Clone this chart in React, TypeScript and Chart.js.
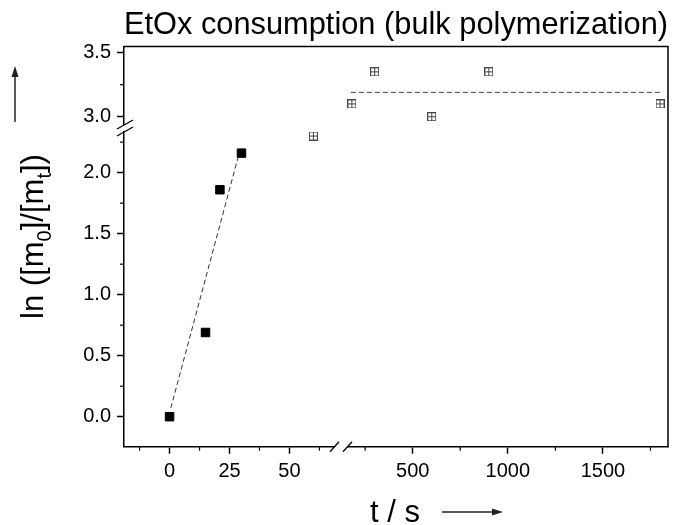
import React, { useEffect, useRef } from 'react';
import { Chart, registerables } from 'chart.js';

Chart.register(...registerables);

// ---- data ----
const titleText = 'EtOx consumption (bulk polymerization)';
const xTitleText = 't / s';
const yTitleParts = [
  { t: 'ln ([m', sub: false },
  { t: '0', sub: true },
  { t: ']/[m', sub: false },
  { t: 't', sub: true },
  { t: '])', sub: false },
];

const filledT = [0, 15, 21, 30];
const filledV = [0, 0.69, 1.86, 2.16];
const fitT = [0.5, 28.5];
const fitV = [0.07, 2.12];
const openLowT = [60];
const openLowV = [2.3];
const openHighT = [180, 300, 600, 900, 1800];
const openHighV = [3.1, 3.35, 3.0, 3.35, 3.1];
const plateauT = [175, 1800];
const plateauV = [3.19, 3.19];

const xLowTicks = [-12.5, 0, 12.5, 25, 37.5, 50, 62.5];
const xLowLabeled = [0, 25, 50];
const xHighTicks = [250, 500, 750, 1000, 1250, 1500, 1750];
const xHighLabeled = [500, 1000, 1500];
const yLowTicks = [0, 0.25, 0.5, 0.75, 1, 1.25, 1.5, 1.75, 2, 2.25];
const yLowLabeled = [0, 0.5, 1, 1.5, 2];
const yHighTicks = [3, 3.25, 3.5];
const yHighLabeled = [3, 3.5];

const FONT = 'Liberation Sans, Arial, sans-serif';

const pts = (xs: number[], ys: number[]) => xs.map((x, i) => ({ x, y: ys[i] }));
const isIn = (arr: number[], v: number) => arr.some((a) => Math.abs(a - v) < 1e-9);

function makeOpenMarker(): HTMLCanvasElement {
  const c = document.createElement('canvas');
  c.width = 9;
  c.height = 9;
  const g = c.getContext('2d')!;
  g.strokeStyle = '#444';
  g.lineWidth = 1;
  g.strokeRect(0.5, 0.5, 8, 8);
  g.beginPath();
  g.moveTo(4.5, 0.5);
  g.lineTo(4.5, 8.5);
  g.moveTo(0.5, 4.5);
  g.lineTo(8.5, 4.5);
  g.stroke();
  return c;
}

function scaleOpts(
  axis: 'x' | 'y',
  position: string,
  min: number,
  max: number,
  weight: number,
  tickVals: number[],
  labeled: number[],
  fmt: (v: number) => string,
  size: number
): any {
  return {
    type: 'linear',
    axis,
    position,
    stack: axis,
    stackWeight: weight,
    min,
    max,
    afterBuildTicks: (s: any) => {
      s.ticks = tickVals.map((v) => ({ value: v }));
    },
    afterFit: (s: any) => {
      if (axis === 'y') s.width = size;
      else s.height = size;
    },
    border: { display: true, color: '#000', width: 1.5 },
    grid: {
      display: true,
      drawOnChartArea: false,
      drawTicks: true,
      tickLength: 7,
      tickWidth: 1.5,
      tickColor: (ctx: any) =>
        ctx.tick && isIn(labeled, ctx.tick.value) ? '#000' : 'rgba(0,0,0,0)',
    },
    ticks: {
      autoSkip: false,
      maxRotation: 0,
      includeBounds: false,
      color: '#000',
      padding: axis === 'y' ? 6 : 6,
      font: { size: 20, family: FONT },
      callback: (v: any) => (isIn(labeled, Number(v)) ? fmt(Number(v)) : ''),
    },
  };
}

const decorPlugin = {
  id: 'decor',
  afterDraw(chart: any) {
    const ctx = chart.ctx as CanvasRenderingContext2D;
    const ca = chart.chartArea;
    const sc = chart.scales;
    ctx.save();
    // frame top/right
    ctx.strokeStyle = '#000';
    ctx.lineWidth = 1.5;
    ctx.beginPath();
    ctx.moveTo(ca.left, ca.top);
    ctx.lineTo(ca.right, ca.top);
    ctx.lineTo(ca.right, ca.bottom);
    ctx.stroke();

    // minor ticks
    const minor = (s: any, labeled: number[]) => {
      ctx.lineWidth = 1.2;
      ctx.strokeStyle = '#000';
      for (const t of s.ticks) {
        if (isIn(labeled, t.value)) continue;
        const p = s.getPixelForValue(t.value);
        ctx.beginPath();
        if (s.isHorizontal()) {
          ctx.moveTo(p, s.top);
          ctx.lineTo(p, s.top + 4);
        } else {
          ctx.moveTo(s.right - 4, p);
          ctx.lineTo(s.right, p);
        }
        ctx.stroke();
      }
    };
    minor(sc.xL, xLowLabeled);
    minor(sc.xR, xHighLabeled);
    minor(sc.yB, yLowLabeled);
    minor(sc.yT, yHighLabeled);

    // y break
    const yb = sc.yB.top;
    const xl = ca.left;
    ctx.fillStyle = '#fff';
    ctx.fillRect(xl - 2, yb - 3, 4, 6);
    ctx.strokeStyle = '#000';
    ctx.lineWidth = 1.3;
    for (const d of [-3.5, 3.5]) {
      ctx.beginPath();
      ctx.moveTo(xl - 7, yb + d + 4.5);
      ctx.lineTo(xl + 9, yb + d - 4.5);
      ctx.stroke();
    }
    // x break
    const xb = sc.xL.right;
    const yl = ca.bottom;
    ctx.fillStyle = '#fff';
    ctx.fillRect(xb - 6, yl - 2, 12, 4);
    for (const d of [-6.5, 6.5]) {
      ctx.beginPath();
      ctx.moveTo(xb + d - 4.5, yl + 5);
      ctx.lineTo(xb + d + 4.5, yl - 5);
      ctx.stroke();
    }

    // x title
    ctx.fillStyle = '#000';
    ctx.font = `31px ${FONT}`;
    ctx.textAlign = 'center';
    ctx.textBaseline = 'alphabetic';
    ctx.fillText(xTitleText, 395, 522);

    // y title with subscripts
    ctx.save();
    ctx.translate(43, 236.5);
    ctx.rotate(-Math.PI / 2);
    ctx.textAlign = 'left';
    const mainF = `31px ${FONT}`;
    const subF = `20px ${FONT}`;
    let total = 0;
    for (const p of yTitleParts) {
      ctx.font = p.sub ? subF : mainF;
      total += ctx.measureText(p.t).width;
    }
    let x = -total / 2;
    for (const p of yTitleParts) {
      ctx.font = p.sub ? subF : mainF;
      ctx.fillText(p.t, x, p.sub ? 8 : 0);
      x += ctx.measureText(p.t).width;
    }
    ctx.restore();

    // arrows
    ctx.strokeStyle = '#222';
    ctx.fillStyle = '#222';
    ctx.lineWidth = 1.5;
    ctx.beginPath();
    ctx.moveTo(15, 122);
    ctx.lineTo(15, 75);
    ctx.stroke();
    ctx.beginPath();
    ctx.moveTo(15, 66);
    ctx.lineTo(11.5, 77);
    ctx.lineTo(18.5, 77);
    ctx.closePath();
    ctx.fill();

    ctx.beginPath();
    ctx.moveTo(442, 512);
    ctx.lineTo(494, 512);
    ctx.stroke();
    ctx.beginPath();
    ctx.moveTo(503, 512);
    ctx.lineTo(492, 508.5);
    ctx.lineTo(492, 515.5);
    ctx.closePath();
    ctx.fill();
    ctx.restore();
  },
};

export default function App() {
  const ref = useRef<HTMLCanvasElement | null>(null);
  useEffect(() => {
    document.body.style.margin = '0';
    const canvas = ref.current!;
    const marker = makeOpenMarker();
    Chart.defaults.font.family = FONT;
    const chart = new Chart(canvas, {
      type: 'scatter',
      data: {
        datasets: [
          {
            data: pts(filledT, filledV),
            xAxisID: 'xL',
            yAxisID: 'yB',
            pointStyle: 'rect',
            pointRadius: 6,
            backgroundColor: '#000',
            borderColor: '#000',
            borderWidth: 1,
          },
          {
            data: pts(openLowT, openLowV),
            xAxisID: 'xL',
            yAxisID: 'yB',
            pointStyle: marker,
            pointRadius: 5,
          },
          {
            data: pts(openHighT, openHighV),
            xAxisID: 'xR',
            yAxisID: 'yT',
            pointStyle: marker,
            pointRadius: 5,
          },
          {
            data: pts(fitT, fitV),
            xAxisID: 'xL',
            yAxisID: 'yB',
            showLine: true,
            pointRadius: 0,
            borderColor: '#333',
            borderWidth: 1,
            borderDash: [5, 3],
          },
          {
            data: pts(plateauT, plateauV),
            xAxisID: 'xR',
            yAxisID: 'yT',
            showLine: true,
            pointRadius: 0,
            borderColor: '#444',
            borderWidth: 1,
            borderDash: [5, 3],
          },
        ] as any,
      },
      options: {
        animation: false,
        responsive: false,
        events: [],
        layout: { padding: { left: 0, right: 15, top: 0, bottom: 0 } },
        plugins: {
          legend: { display: false },
          tooltip: { enabled: false },
          title: {
            display: true,
            text: titleText,
            fullSize: false,
            color: '#000',
            font: { size: 31.4, weight: 'normal', family: FONT, lineHeight: 1.2 },
            padding: { top: 7, bottom: 1.8 },
          },
        },
        scales: {
          xL: scaleOpts('x', 'bottom', -19, 71.5, 217, xLowTicks, xLowLabeled, (v) => String(v), 78.3),
          xR: scaleOpts('x', 'bottom', 123, 1842, 327, xHighTicks, xHighLabeled, (v) => String(v), 78.3),
          yB: scaleOpts('y', 'left', -0.246, 2.366, 318.7, yLowTicks, yLowLabeled, (v) => v.toFixed(1), 124),
          yT: scaleOpts('y', 'left', 2.912, 3.548, 81.5, yHighTicks, yHighLabeled, (v) => v.toFixed(1), 124),
        } as any,
      },
      plugins: [decorPlugin],
    });
    return () => chart.destroy();
  }, []);
  return (
    <div style={{ width: 683, height: 525 }}>
      <canvas ref={ref} width={683} height={525} />
    </div>
  );
}
